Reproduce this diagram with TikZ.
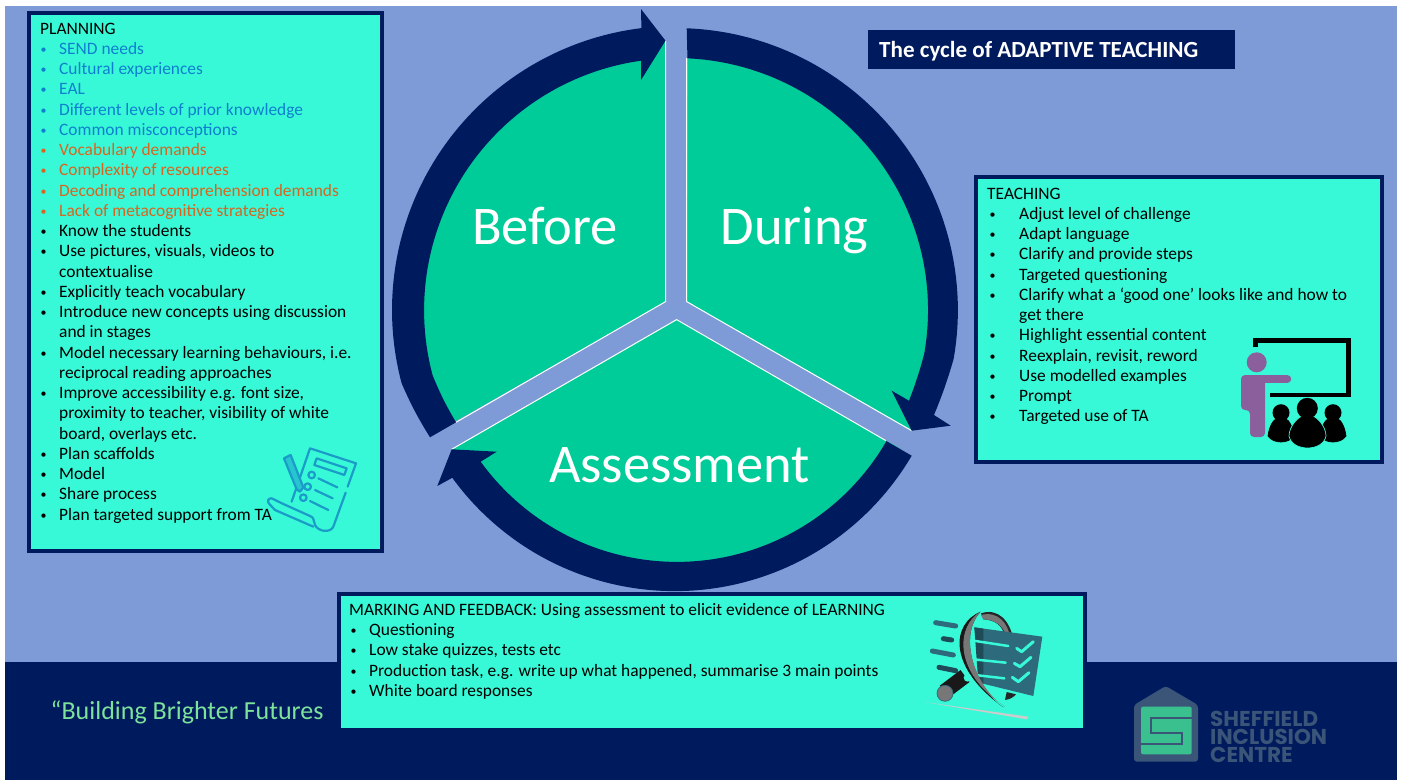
\documentclass[tikz,border=0pt]{standalone}
\usepackage{fontspec}
\usepackage{xcolor}
\setmainfont{Carlito}
\newfontfamily\logofont{Poppins}
\usetikzlibrary{positioning}

\definecolor{slide}{HTML}{7F9BD7}
\definecolor{navy}{HTML}{001A5E}
\definecolor{wheel}{HTML}{00CC99}
\definecolor{aqua}{HTML}{38F9D7}
\definecolor{sendblue}{HTML}{0F7FCF}
\definecolor{demand}{HTML}{D8651F}
\definecolor{slogan}{HTML}{7DE29A}
\definecolor{logodark}{HTML}{3A5578}
\definecolor{logogreen}{HTML}{3ABF8F}
\definecolor{teacher}{HTML}{8B5F9C}
\definecolor{scroll}{HTML}{1A9BC8}
\definecolor{sheet}{HTML}{2C6A7C}
\definecolor{ring}{HTML}{777777}

\newcommand{\bul}[2][19pt]{\makebox[#1][l]{\hspace*{0.5pt}\raisebox{1pt}{\fontsize{12pt}{12pt}\selectfont •}}#2}
% one of the three children in front of the board
\newcommand{\child}[4]{
    \fill[black, draw=#4, line width=0.7pt] (#1-#3,-436) .. controls (#1-#3+1,-427) and (#1-#3*0.6,-#2-7) .. (#1-#3*0.35,-#2-6) -- (#1+#3*0.35,-#2-6) .. controls (#1+#3*0.6,-#2-7) and (#1+#3-1,-427) .. (#1+#3,-436) .. controls (#1+#3*0.6,-444) and (#1-#3*0.6,-444) .. (#1-#3,-436) -- cycle;
    \fill[black] (#1,-#2) circle[radius=8.5pt];
}

\tikzset{
    x=1pt, y=1pt,
    panel/.style = {draw=navy, line width=4pt, fill=aqua, anchor=north west, inner sep=0pt, outer sep=0pt},
    listtxt/.style = {anchor=north west, inner sep=0pt, align=left, text=black, font=\fontsize{17.4pt}{20.25pt}\selectfont},
    bigtxt/.style = {anchor=base, inner sep=0pt, text=white, font=\fontsize{54.5pt}{60pt}\selectfont},
    sector/.style = {fill=wheel},
    gapedge/.style = {draw=white, line width=1pt},
    band/.style = {fill=navy},
}

\begin{document}
\begin{tikzpicture}
    \useasboundingbox (0,-780) rectangle (1402,0);

    % Slide
    \fill[white] (0,-780) rectangle (1402,0);
    \fill[slide] (5,-780) rectangle (1397,-6);
    \fill[navy] (5,-780) rectangle (1397,-662);

    % Sectors
    \fill[sector] (665.6,-301.6) -- (665.6,-40.7) arc[start angle=92.2, end angle=207, radius=269.5] -- cycle;
    \fill[sector] (686.7,-301.6) -- (911.7,-430.7) arc[start angle=-27, end angle=87.5, radius=264] -- cycle;
    \fill[sector] (676.6,-319.6) -- (451.7,-449.3) arc[start angle=211.8, end angle=328.2, radius=264.5] -- cycle;
    \draw[gapedge] (665.6,-40.7) -- (665.6,-301.6) -- (456,-422.3);
    \draw[gapedge] (686.7,-58) -- (686.7,-301.6) -- (911.7,-430.7);
    \draw[gapedge] (451.7,-449.3) -- (676.6,-319.6) -- (886,-440.7);

    % Arrows
    \fill[band] (430,-437.3) to[bend left=4] (401.7,-383.5) arc[start angle=195, end angle=97, radius=284]
        -- (641,-9) -- (665.5,-40.7) -- (641,-80) -- (641,-60.7)
        arc[start angle=98, end angle=195, radius=252] to[bend right=4] (456,-422.3) -- cycle;
    \fill[band] (686.7,-28.3) arc[start angle=87.8, end angle=-10, radius=282] to[bend left=3] (934,-415)
        -- (950.7,-425.7) -- (911.7,-430.7) -- (891.7,-390.7) -- (909,-400.7)
        to[bend right=3] (924.2,-353.8) arc[start angle=-10, end angle=87.4, radius=252] -- cycle;
    \fill[band] (911.7,-455.7) arc[start angle=-30.5, end angle=-144, radius=275]
        -- (437.3,-486) -- (451.7,-449.3) -- (496.7,-451.7) -- (480.7,-461.7)
        arc[start angle=-144.1, end angle=-30.1, radius=242.2] -- cycle;

    % Wheel labels
    \node[bigtxt] (before) at (545,-244) {Before};
    \node[bigtxt] (during) at (794.5,-244) {During};
    \node[bigtxt] (assessment) at (679.5,-482) {Assessment};

    % Panels
    \node[panel, minimum width=353pt, minimum height=537.5pt] (planbox) at (29,-13) {};
    \node[panel, minimum width=406pt, minimum height=284.5pt] (teachbox) at (976,-177) {};
    \node[panel, minimum width=746pt, minimum height=136.5pt] (markbox) at (339,-593.5) {};
    \node[fill=navy, anchor=north west, minimum width=367pt, minimum height=39pt, inner sep=0pt, outer sep=0pt] (titlebox) at (868,-30) {};
    \node[anchor=base west, inner sep=0pt, text=white, font=\fontsize{23.1pt}{26pt}\selectfont\bfseries] (title) at (879,-57.5) {The cycle of ADAPTIVE TEACHING};

    % Scroll icon
    \begin{scope}[shift={(250,-430)}, x=0.3333pt, y=-0.3333pt, draw=scroll, line width=2.2pt, line join=round, line cap=round]
        \draw (125,215) -- (180,55) -- (318,100) -- (293,170);
        \draw (287,188) -- (250,290) .. controls (240,310) and (205,305) .. (195,285) .. controls (190,270) and (192,262) .. (180,258) -- (100,222);
        \draw (100,222) -- (65,205) .. controls (55,203) and (50,215) .. (58,222) -- (75,240) -- (190,290);
        \draw (200,85) -- (290,115) -- (283,135) -- (193,105) -- cycle;
        \draw (185,135) circle[radius=3.3pt];
        \draw (173,170) circle[radius=3.3pt];
        \draw (160,203) circle[radius=3.3pt];
        \draw (205,145) -- (262,172);
        \draw (195,180) -- (248,205);
        \draw (180,213) -- (235,240);
        \draw[fill=scroll!55!aqua] (102,85) -- (122,75) -- (160,172) -- (150,185) -- (140,178) -- cycle;
    \end{scope}

    % Teacher icon
    \draw[black, line width=4.5pt] (1255.7,-346.7) -- (1255.7,-340.7) -- (1348.3,-340.7) -- (1348.3,-395) -- (1270,-395);
    \fill[teacher] (1256.7,-362.3) circle[radius=10pt];
    \draw[teacher, line width=8.5pt, line cap=round] (1258,-379) -- (1287,-379);
    \fill[teacher, rounded corners=4pt] (1241,-375) -- (1265,-375) -- (1265,-437) -- (1250,-437) -- (1250,-410) -- (1241,-410) -- cycle;
    \child{1281}{412.7}{13}{black}
    \child{1333}{412.7}{13}{black}
    \fill[black, draw=aqua, line width=0.7pt] (1289,-436) .. controls (1289,-426) and (1299,-416) .. (1303,-416) -- (1312,-416) .. controls (1316,-416) and (1326,-426) .. (1326,-436) .. controls (1323,-452) and (1292,-452) .. (1289,-436) -- cycle;
    \fill[black] (1307.3,-408.3) circle[radius=10.5pt];

    % Magnifier icon
    \begin{scope}[shift={(915,-600)}, x=0.3333pt, y=-0.3333pt, line join=round, line cap=round]
        \draw[sheet, line width=5pt] (62,68) -- (122,78);
        \draw[sheet!70!black, line width=5pt] (85,116) -- (110,120);
        \draw[sheet, line width=5pt] (52,153) -- (115,165);
        \draw[sheet!70!black, line width=5pt] (72,202) -- (122,212);
        \fill[black!85] (270,300) .. controls (285,298) and (295,292) .. (303,283) -- (275,276) -- cycle;
        \fill[black!85] (198,40) .. controls (250,22) and (285,65) .. (294,115) -- (270,110) .. controls (262,75) and (240,60) .. (205,58) -- cycle;
        \fill[ring] (198,45) .. controls (250,32) and (278,70) .. (286,112) -- (274,110) .. controls (266,78) and (240,58) .. (205,58) -- cycle;
        \fill[sheet] (178,82) -- (382,110) -- (355,288) -- (200,250) -- cycle;
        \fill[sheet!70!black] (178,82) -- (205,86) -- (205,252) -- (190,248) -- cycle;
        \draw[aqua, line width=2.5pt] (175,122) -- (280,138);
        \draw[aqua, line width=2.5pt] (175,178) -- (272,188);
        \draw[aqua, line width=2.5pt] (180,225) -- (268,235);
        \draw[aqua, line width=3pt] (305,145) -- (320,155) -- (355,125);
        \draw[aqua, line width=3pt] (298,190) -- (315,200) -- (348,172);
        \draw[aqua, line width=3pt] (292,232) -- (310,245) -- (342,218);
        \fill[black!90] (197,35) .. controls (110,70) and (95,200) .. (265,322) .. controls (185,270) and (125,110) .. (197,35) -- cycle;
        \fill[ring] (197,35) .. controls (125,75) and (110,215) .. (270,320) .. controls (185,270) and (125,110) .. (197,35) -- cycle;
        \draw[black!90, line width=15pt, line cap=butt] (150,228) -- (88,275);
        \fill[aqua] (158,233) circle[radius=4pt];
        \fill[ring, draw=sheet, line width=0.7pt] (90,280) circle[radius=8pt];
        \fill[black!20] (28,306) -- (340,350) -- (335,358) -- cycle;
    \end{scope}

    % Lists
    \node[listtxt] (planning) at (40,-22.5) {
        PLANNING\\
        \textcolor{sendblue}{\bul{SEND needs}}\\
        \textcolor{sendblue}{\bul{Cultural experiences}}\\
        \textcolor{sendblue}{\bul{EAL}}\\
        \textcolor{sendblue}{\bul{Different levels of prior knowledge}}\\
        \textcolor{sendblue}{\bul{Common misconceptions}}\\
        \textcolor{demand}{\bul{Vocabulary demands}}\\
        \textcolor{demand}{\bul{Complexity of resources}}\\
        \textcolor{demand}{\bul{Decoding and comprehension demands}}\\
        \textcolor{demand}{\bul{Lack of metacognitive strategies}}\\
        \bul{Know the students}\\
        \bul{Use pictures, visuals, videos to}\\
        \hspace*{19pt}contextualise\\
        \bul{Explicitly teach vocabulary}\\
        \bul{Introduce new concepts using discussion}\\
        \hspace*{19pt}and in stages\\
        \bul{Model necessary learning behaviours, i.e.}\\
        \hspace*{19pt}reciprocal reading approaches\\
        \bul{Improve accessibility e.g. font size,}\\
        \hspace*{19pt}proximity to teacher, visibility of white\\
        \hspace*{19pt}board, overlays etc.\\
        \bul{Plan scaffolds}\\
        \bul{Model}\\
        \bul{Share process}\\
        \bul{Plan targeted support from TA}};
    \node[listtxt] (teaching) at (987,-187.5) {
        TEACHING\\
        \hspace*{2pt}\bul[30pt]{Adjust level of challenge}\\
        \hspace*{2pt}\bul[30pt]{Adapt language}\\
        \hspace*{2pt}\bul[30pt]{Clarify and provide steps}\\
        \hspace*{2pt}\bul[30pt]{Targeted questioning}\\
        \hspace*{2pt}\bul[30pt]{Clarify what a ‘good one’ looks like and how to}\\
        \hspace*{32pt}get there\\
        \hspace*{2pt}\bul[30pt]{Highlight essential content}\\
        \hspace*{2pt}\bul[30pt]{Reexplain, revisit, reword}\\
        \hspace*{2pt}\bul[30pt]{Use modelled examples}\\
        \hspace*{2pt}\bul[30pt]{Prompt}\\
        \hspace*{2pt}\bul[30pt]{Targeted use of TA}};
    \node[listtxt] (marking) at (349,-603) {
        MARKING AND FEEDBACK: Using assessment to elicit evidence of LEARNING\\
        \hspace*{1pt}\bul{Questioning}\\
        \hspace*{1pt}\bul{Low stake quizzes, tests etc}\\
        \hspace*{1pt}\bul{Production task, e.g. write up what happened, summarise 3 main points}\\
        \hspace*{1pt}\bul{White board responses}};

    % Footer
    \node[anchor=base west, inner sep=0pt, text=slogan, font=\fontsize{26pt}{28pt}\selectfont] (motto) at (50.5,-719) {“Building Brighter Futures};

    % Logo
    \fill[logodark, rounded corners=3pt] (1134,-761.7) -- (1134,-705) -- (1165.7,-686) -- (1198,-705) -- (1198,-761.7) -- cycle;
    \fill[logogreen, rounded corners=2pt] (1141,-754.3) rectangle (1191.7,-706.7);
    \draw[logodark, line width=2pt] (1191.7,-718.3) -- (1150.7,-718.3) -- (1150.7,-732.7) -- (1181.7,-732.7) -- (1181.7,-744) -- (1141,-744);
    \node[anchor=north west, inner sep=0pt, align=left, text=logodark, font=\logofont\fontsize{21.5pt}{18pt}\selectfont\bfseries] (logotext) at (1210,-710.5) {SHEFFIELD\\INCLUSION\\CENTRE};
\end{tikzpicture}
\end{document}
